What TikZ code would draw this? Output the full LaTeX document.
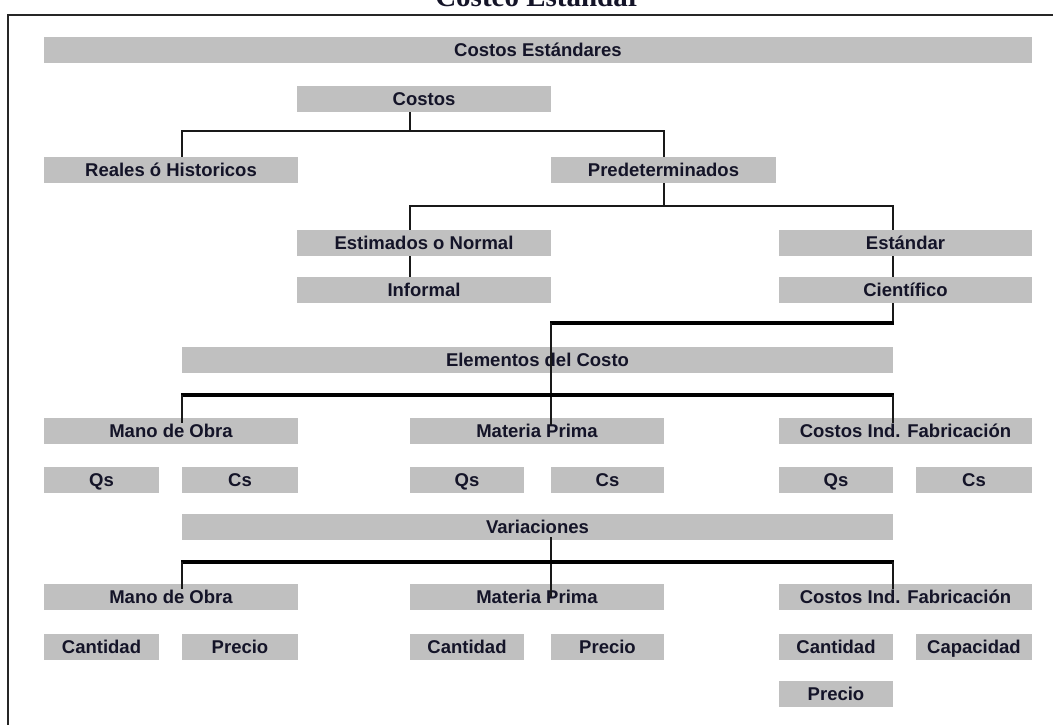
\documentclass[tikz,border=0pt]{standalone}
\usepackage{fontspec}
\newfontfamily\lab{Liberation Sans}
\newfontfamily\ttl{Liberation Serif}
\usetikzlibrary{calc}
\definecolor{boxgray}{HTML}{C0C0C0}
\definecolor{txt}{HTML}{141428}
\begin{document}
\begin{tikzpicture}[x=1pt,y=-1pt,
 gbox/.style={fill=boxgray, inner sep=0pt, minimum height=26pt, text height=13.2pt, text depth=1pt, text=txt, font=\lab\bfseries\fontsize{18.5}{20}\selectfont},
 link/.style={line width=2pt, draw=black!90},
 bus/.style={line width=3.6pt, draw=black, shorten <=-1pt, shorten >=-1pt}]
\clip (0,0) rectangle (1053,725);
\fill[white] (0,0) rectangle (1053,725);
% title and frame
\node[font=\ttl\bfseries\fontsize{29}{30}\selectfont, anchor=base, text=txt, inner sep=0pt] (title) at (538,7) {Costeo Estándar};
\draw[line width=2.4pt, draw=black!85] (8,730) -- (8,15) -- (1060,15);
% boxes
\node[gbox, minimum width=988pt] (std) at (538,50) {Costos Estándares};
\node[gbox, minimum width=254pt] (costos) at (424,99) {Costos};
\node[gbox, minimum width=254pt] (reales) at (171,170) {Reales ó Historicos};
\node[gbox, minimum width=225pt] (pred) at (663.5,170) {Predeterminados};
\node[gbox, minimum width=254pt] (estim) at (424,243) {Estimados o Normal};
\node[gbox, minimum width=254pt] (informal) at (424,290) {Informal};
\node[gbox, minimum width=253pt] (estandar) at (905.5,243) {Estándar};
\node[gbox, minimum width=253pt] (cient) at (905.5,290) {Científico};
\node[gbox, minimum width=711pt] (elem) at (537.5,360) {Elementos del Costo};
\node[gbox, minimum width=254pt] (mo1) at (171,431) {Mano de Obra};
\node[gbox, minimum width=254pt] (mp1) at (537,431) {Materia Prima};
\node[gbox, minimum width=253pt] (cif1) at (905.5,431) {Costos Ind. Fabricación};
\node[gbox, minimum width=115pt] (qs1) at (101.5,480) {Qs};
\node[gbox, minimum width=116pt] (cs1) at (240,480) {Cs};
\node[gbox, minimum width=114pt] (qs2) at (467,480) {Qs};
\node[gbox, minimum width=113pt] (cs2) at (607.5,480) {Cs};
\node[gbox, minimum width=114pt] (qs3) at (836,480) {Qs};
\node[gbox, minimum width=116pt] (cs3) at (974,480) {Cs};
\node[gbox, minimum width=711pt] (var) at (537.5,527) {Variaciones};
\node[gbox, minimum width=254pt] (mo2) at (171,597) {Mano de Obra};
\node[gbox, minimum width=254pt] (mp2) at (537,597) {Materia Prima};
\node[gbox, minimum width=253pt] (cif2) at (905.5,597) {Costos Ind. Fabricación};
\node[gbox, minimum width=115pt] (can1) at (101.5,647) {Cantidad};
\node[gbox, minimum width=116pt] (pre1) at (240,647) {Precio};
\node[gbox, minimum width=114pt] (can2) at (467,647) {Cantidad};
\node[gbox, minimum width=113pt] (pre2) at (607.5,647) {Precio};
\node[gbox, minimum width=114pt] (can3) at (836,647) {Cantidad};
\node[gbox, minimum width=116pt] (cap3) at (974,647) {Capacidad};
\node[gbox, minimum width=114pt] (pre3) at (836,694) {Precio};
% bus levels
\coordinate (b1) at (0,131);
\coordinate (b2) at (0,206);
\coordinate (b3) at (0,323);
\coordinate (b4) at (0,395);
\coordinate (b5) at (0,562);
% Costos tree
\draw[link] (costos.south -| mp1.west) -- (b1 -| mp1.west);
\draw[link] (reales.north -| elem.west) -- (b1 -| elem.west) -- (b1 -| pred.north) -- (pred.north);
% Predeterminados tree
\draw[link] (pred.south) -- (b2 -| pred.south);
\draw[link] (estim.north -| mp1.west) -- (b2 -| mp1.west) -- (b2 -| elem.east) -- (estandar.north -| elem.east);
\draw[link] (estim.south -| mp1.west) -- (informal.north -| mp1.west);
\draw[link] (estandar.south -| elem.east) -- (cient.north -| elem.east);
% Cientifico to Elementos
\draw[link] (cient.south -| elem.east) -- (b3 -| elem.east);
\draw[bus] (b3 -| elem.east) -- (b3 -| costos.east);
\draw[link] (b3 -| costos.east) -- ($(mp1.north -| costos.east)+(0,7)$);
% Elementos bus
\draw[bus] (b4 -| elem.west) -- (b4 -| elem.east);
\draw[link] (b4 -| elem.west) -- ($(mo1.north -| elem.west)+(0,5)$);
\draw[link] (b4 -| elem.east) -- ($(cif1.north -| elem.east)+(0,5)$);
% Variaciones bus
\draw[link] ($(var.south -| costos.east)+(0,-3)$) -- ($(mp2.north -| costos.east)+(0,13)$);
\draw[bus] (b5 -| elem.west) -- (b5 -| elem.east);
\draw[link] (b5 -| elem.west) -- ($(mo2.north -| elem.west)+(0,5)$);
\draw[link] (b5 -| elem.east) -- ($(cif2.north -| elem.east)+(0,5)$);
\end{tikzpicture}
\end{document}
